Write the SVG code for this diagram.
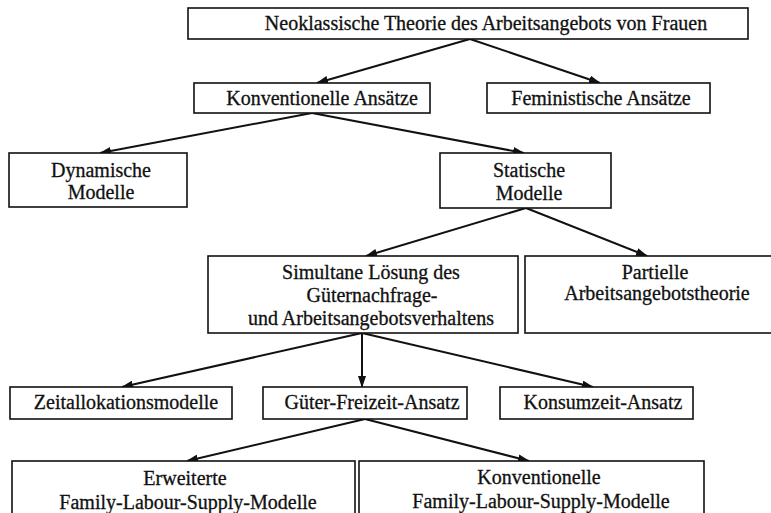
<svg xmlns="http://www.w3.org/2000/svg" width="771" height="513" viewBox="0 0 771 513">
<style>
rect{fill:#fff;stroke:#111;stroke-width:1.6}
text{font-family:"Liberation Serif","Times New Roman",serif;font-size:20px;fill:#111;stroke:#111;stroke-width:0.3;text-anchor:middle}
.c line{stroke:#111;stroke-width:2;marker-end:url(#ah)}
</style>
<defs>
<marker id="ah" markerUnits="userSpaceOnUse" markerWidth="12" markerHeight="8" refX="11" refY="4" orient="auto">
<path d="M0,0 L12,4 L0,8 z" fill="#111"/>
</marker>
</defs>
<rect x="0" y="0" width="771" height="513" style="stroke:none"/>
<g class="c" id="connectors">
<line x1="470" y1="39" x2="317" y2="83"/>
<line x1="470" y1="39" x2="600" y2="83"/>
<line x1="312" y1="113" x2="100" y2="153"/>
<line x1="312" y1="113" x2="524" y2="153"/>
<line x1="526" y1="208" x2="366" y2="256"/>
<line x1="526" y1="208" x2="647" y2="256"/>
<line x1="362" y1="333" x2="122" y2="387"/>
<line x1="362" y1="333" x2="362" y2="387"/>
<line x1="362" y1="333" x2="593" y2="387"/>
<line x1="365" y1="419" x2="187" y2="461"/>
<line x1="365" y1="419" x2="529" y2="461"/>
</g>
<g id="n-neoklassisch"><rect x="188" y="8" width="560" height="31"/><text x="486" y="30">Neoklassische Theorie des Arbeitsangebots von Frauen</text></g>
<g id="n-konventionell"><rect x="194" y="83" width="236" height="30"/><text x="322" y="105">Konventionelle Ansätze</text></g>
<g id="n-feministisch"><rect x="487" y="83" width="223" height="30"/><text x="601" y="105">Feministische Ansätze</text></g>
<g id="n-dynamisch"><rect x="9" y="153" width="178" height="54"/><text x="101" y="177">Dynamische</text><text x="101" y="199">Modelle</text></g>
<g id="n-statisch"><rect x="440" y="153" width="171" height="55"/><text x="529" y="177">Statische</text><text x="529" y="200">Modelle</text></g>
<g id="n-simultan"><rect x="208" y="256" width="310" height="77"/><text x="371" y="279">Simultane Lösung des</text><text x="372" y="302">Güternachfrage-</text><text x="371" y="325">und Arbeitsangebotsverhaltens</text></g>
<g id="n-partiell"><rect x="525" y="256" width="270" height="77"/><text x="655" y="279">Partielle</text><text x="657" y="300">Arbeitsangebotstheorie</text></g>
<g id="n-zeit"><rect x="10" y="387" width="222" height="32"/><text x="126" y="409">Zeitallokationsmodelle</text></g>
<g id="n-gueter"><rect x="263" y="387" width="204" height="32"/><text x="372" y="409">Güter-Freizeit-Ansatz</text></g>
<g id="n-konsum"><rect x="500" y="387" width="193" height="32"/><text x="603" y="409">Konsumzeit-Ansatz</text></g>
<g id="n-erweitert"><rect x="12" y="461" width="343" height="70"/><text x="185" y="485">Erweiterte</text><text x="188" y="509">Family-Labour-Supply-Modelle</text></g>
<g id="n-konvfam"><rect x="359" y="461" width="345" height="70"/><text x="539" y="484">Konventionelle</text><text x="541" y="508">Family-Labour-Supply-Modelle</text></g>
</svg>
